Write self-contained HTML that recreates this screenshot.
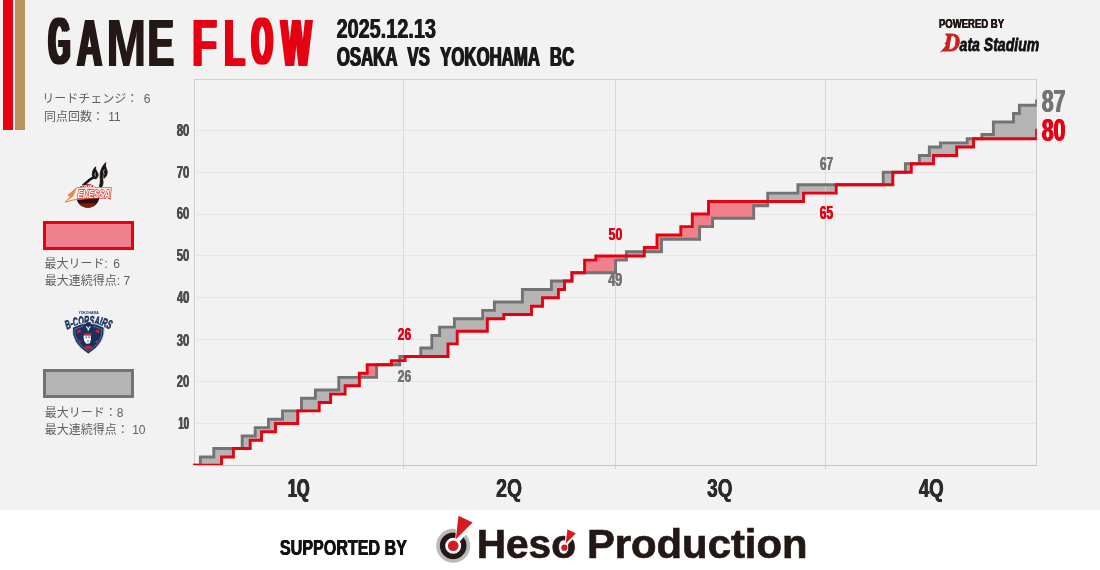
<!DOCTYPE html>
<html lang="ja"><head><meta charset="utf-8"><title>GAME FLOW</title>
<style>
html,body{margin:0;padding:0}
body{width:1100px;height:570px;position:relative;overflow:hidden;background:#f2f2f2;font-family:"Liberation Sans","Noto Sans CJK JP",sans-serif}
.d{position:absolute;white-space:pre;line-height:1;font-family:"Liberation Sans",sans-serif;font-weight:700;transform-origin:0 0;display:block}
.j{position:absolute;white-space:pre;line-height:1;font-family:"Liberation Sans","Noto Sans CJK JP",sans-serif;font-size:12px;color:#606060}
.abs{position:absolute}
svg{position:absolute;left:0;top:0}
</style></head><body>
<div class="abs" id="footer" style="left:0;top:510px;width:1100px;height:60px;background:#fff"></div>
<div class="abs" style="left:3px;top:0;width:10px;height:130px;background:#e60012"></div>
<div class="abs" style="left:15px;top:0;width:10px;height:130px;background:#b8945c"></div>
<svg id="chart" width="1100" height="570" viewBox="0 0 1100 570">
<defs><clipPath id="cp"><rect x="192.8" y="79" width="844" height="386"/></clipPath></defs>
<rect x="196" y="423" width="840" height="1" fill="#e7e7e7"/><rect x="196" y="381" width="840" height="1" fill="#e7e7e7"/><rect x="196" y="339" width="840" height="1" fill="#e7e7e7"/><rect x="196" y="297" width="840" height="1" fill="#e7e7e7"/><rect x="196" y="255" width="840" height="1" fill="#e7e7e7"/><rect x="196" y="214" width="840" height="1" fill="#e7e7e7"/><rect x="196" y="172" width="840" height="1" fill="#e7e7e7"/><rect x="196" y="130" width="840" height="1" fill="#e7e7e7"/><rect x="403" y="80" width="1" height="385" fill="#dadada"/><rect x="403" y="466" width="1" height="3" fill="#d0d0d0"/><rect x="615" y="80" width="1" height="385" fill="#dadada"/><rect x="615" y="466" width="1" height="3" fill="#d0d0d0"/><rect x="825" y="80" width="1" height="385" fill="#dadada"/><rect x="825" y="466" width="1" height="3" fill="#d0d0d0"/>
<rect x="194" y="79" width="843" height="1" fill="#cfcfcf"/>
<rect x="194" y="79" width="1" height="387" fill="#cfcfcf"/>
<rect x="1036" y="79" width="1" height="387" fill="#cfcfcf"/>
<rect x="194" y="465" width="843" height="1" fill="#c4c4c4"/>
<g clip-path="url(#cp)">
<path d="M200.4,456.93H213.8V465.3H200.4ZM213.8,448.55H221.5V465.3H213.8ZM221.5,448.55H233.4V456.93H221.5ZM242.2,435.99H250.2V448.55H242.2ZM250.2,435.99H255.2V440.18H250.2ZM255.2,427.61H261.5V440.18H255.2ZM261.5,427.61H268.5V431.8H261.5ZM268.5,419.24H275.5V431.8H268.5ZM275.5,419.24H282.5V423.43H275.5ZM282.5,410.86H297.7V423.43H282.5ZM301.5,398.3H315.4V410.86H301.5ZM315.4,389.93H319.2V410.86H315.4ZM319.2,389.93H330.6V402.49H319.2ZM330.6,389.93H338.8V394.11H330.6ZM338.8,377.36H345.1V394.11H338.8ZM345.1,377.36H359.4V385.74H345.1ZM399.8,356.43H405.1V360.61H399.8ZM420.8,348.05H431.8V356.43H420.8ZM431.8,335.49H439.6V356.43H431.8ZM439.6,327.11H448.0V356.43H439.6ZM448.0,327.11H454.4V343.86H448.0ZM454.4,318.74H457.2V343.86H454.4ZM457.2,318.74H482.7V331.3H457.2ZM482.7,310.36H487.3V331.3H482.7ZM487.3,310.36H494.4V318.74H487.3ZM494.4,301.99H503.8V318.74H494.4ZM503.8,301.99H522.4V314.55H503.8ZM522.4,289.43H531.5V314.55H522.4ZM531.5,289.43H542.5V306.18H531.5ZM542.5,289.43H551.4V297.8H542.5ZM551.4,281.05H558.4V297.8H551.4ZM558.4,281.05H564.5V289.43H558.4ZM626.4,251.74H644.3V255.93H626.4ZM767.7,193.11H797.9V201.49H767.7ZM797.9,184.74H803.5V201.49H797.9ZM803.5,184.74H836.2V193.11H803.5ZM883.2,172.18H892.8V184.74H883.2ZM905.4,163.8H911.3V172.18H905.4ZM919.4,155.43H929.3V163.8H919.4ZM929.3,147.05H933.5V163.8H929.3ZM933.5,147.05H940.5V155.43H933.5ZM940.5,142.86H956.7V155.43H940.5ZM956.7,142.86H967.2V147.05H956.7ZM967.2,138.68H973.5V147.05H967.2ZM981.9,134.49H993.4V138.68H981.9ZM993.4,121.93H1013.5V138.68H993.4ZM1013.5,113.55H1019.4V138.68H1013.5ZM1019.4,105.18H1036.6V138.68H1019.4ZM1036.6,100.99H1036.8V130.3H1036.6Z" fill="#b4b4b4"/>
<path d="M359.4,373.18H367.2V377.36H359.4ZM367.2,364.8H376.6V377.36H367.2ZM391.4,360.61H399.8V364.8H391.4ZM571.9,272.68H572.0V281.05H571.9ZM584.6,260.11H595.8V272.68H584.6ZM595.8,255.93H615.6V272.68H595.8ZM615.6,255.93H626.4V260.11H615.6ZM644.3,247.55H657.0V251.74H644.3ZM657.0,234.99H661.5V251.74H657.0ZM661.5,234.99H680.8V239.18H661.5ZM680.8,226.61H692.3V239.18H680.8ZM692.3,214.05H699.6V239.18H692.3ZM699.6,214.05H708.5V226.61H699.6ZM708.5,201.49H712.6V226.61H708.5ZM712.6,201.49H753.7V218.24H712.6ZM753.7,201.49H767.7V205.68H753.7Z" fill="#ef808c"/>
<path d="M403.5,80V465M615.5,80V465M825.5,80V465" stroke="#d8d8d8" stroke-width="1" opacity="0.55" fill="none"/>
<path d="M193.0,465.3H200.4V456.93H213.8V448.55H242.2V435.99H255.2V427.61H268.5V419.24H282.5V410.86H301.5V398.3H315.4V389.93H338.8V377.36H376.6V364.8H399.8V356.43H420.8V348.05H431.8V335.49H439.6V327.11H454.4V318.74H482.7V310.36H494.4V301.99H522.4V289.43H551.4V281.05H572.0V272.68H615.6V260.11H626.4V251.74H661.5V239.18H699.6V226.61H712.6V218.24H753.7V205.68H767.7V193.11H797.9V184.74H883.2V172.18H905.4V163.8H919.4V155.43H929.3V147.05H940.5V142.86H967.2V138.68H981.9V134.49H993.4V121.93H1013.5V113.55H1019.4V105.18H1036.6V100.99H1039.8" fill="none" stroke="#737373" stroke-width="2.9" stroke-linejoin="miter"/>
<path d="M193.0,465.3H221.5V456.93H233.4V448.55H250.2V440.18H261.5V431.8H275.5V423.43H297.7V410.86H319.2V402.49H330.6V394.11H345.1V385.74H359.4V373.18H367.2V364.8H391.4V360.61H405.1V356.43H448.0V343.86H457.2V331.3H487.3V318.74H503.8V314.55H531.5V306.18H542.5V297.8H558.4V289.43H564.5V281.05H571.9V272.68H584.6V260.11H595.8V255.93H644.3V247.55H657.0V234.99H680.8V226.61H692.3V214.05H708.5V201.49H803.5V193.11H836.2V184.74H892.8V172.18H911.3V163.8H933.5V155.43H956.7V147.05H973.5V138.68H1036.6V130.3H1039.8" fill="none" stroke="#e60012" stroke-width="2.9" stroke-linejoin="miter"/>
</g>
</svg>
<div class="abs" style="left:42.7px;top:220.6px;width:85.3px;height:23.2px;border:3px solid #e60012;background:#ef808c"></div>
<div class="abs" style="left:42.7px;top:368.7px;width:85.3px;height:23.2px;border:3px solid #737373;background:#b4b4b4"></div>
<span class="j" id="j1" style="left:42.3px;top:92.5px;word-spacing:2px">リードチェンジ： 6</span>
<span class="j" id="j2" style="left:44px;top:111.3px;word-spacing:1px">同点回数： 11</span>
<span class="j" id="j3" style="left:44.6px;top:257.6px;word-spacing:2px">最大リード: 6</span>
<span class="j" id="j4" style="left:44.8px;top:275.3px">最大連続得点: 7</span>
<span class="j" id="j5" style="left:44.8px;top:406.6px">最大リード：8</span>
<span class="j" id="j6" style="left:44.8px;top:424.3px">最大連続得点： 10</span>
<span id="title"><span class="d" id="t_G" style="left:0;top:0;font-size:65.77px;color:#231815;transform:translate(48.78px,9.14px) scale(0.4147,1.0000);text-shadow:4.82px 0 0 #231815,-4.82px 0 0 #231815;">G</span><span class="d" id="t_A" style="left:0;top:0;font-size:67.259px;color:#231815;transform:translate(77.19px,8.60px) scale(0.5101,1.0000);text-shadow:3.08px 0 0 #231815,-3.08px 0 0 #231815;">A</span><span class="d" id="t_M" style="left:0;top:0;font-size:67.259px;color:#231815;transform:translate(106.26px,8.60px) scale(0.7137,1.0000);text-shadow:0.79px 0 0 #231815,-0.79px 0 0 #231815;">M</span><span class="d" id="t_E" style="left:0;top:0;font-size:67.259px;color:#231815;transform:translate(147.68px,8.60px) scale(0.5851,1.0000);text-shadow:2.06px 0 0 #231815,-2.06px 0 0 #231815;">E</span> <span class="d" id="t_F" style="left:0;top:0;font-size:67.259px;color:#e60012;transform:translate(191.86px,8.60px) scale(0.6186,1.0000);text-shadow:1.68px 0 0 #e60012,-1.68px 0 0 #e60012;">F</span><span class="d" id="t_L" style="left:0;top:0;font-size:67.259px;color:#e60012;transform:translate(224.41px,8.60px) scale(0.4980,1.0000);text-shadow:3.28px 0 0 #e60012,-3.28px 0 0 #e60012;">L</span><span class="d" id="t_O" style="left:0;top:0;font-size:65.849px;color:#e60012;transform:translate(251.88px,9.18px) scale(0.4013,1.0000);text-shadow:5.15px 0 0 #e60012,-5.15px 0 0 #e60012;">O</span><span class="d" id="t_W" style="left:0;top:0;font-size:67.259px;color:#e60012;transform:translate(281.22px,8.60px) scale(0.4732,1.0000);text-shadow:3.71px 0 0 #e60012,-3.71px 0 0 #e60012;">W</span></span>
<span class="d" id="t_date" style="left:0;top:0;font-size:26.939px;color:#1a1a1a;transform:translate(336.54px,16.34px) scale(0.7377,1.0000);text-shadow:0.50px 0 0 #1a1a1a,-0.50px 0 0 #1a1a1a;">2025.12.13</span><span class="d" id="t_match" style="left:0;top:0;font-size:27.399px;color:#1a1a1a;word-spacing:0.36em;transform:translate(336.83px,42.72px) scale(0.6125,1.0000);text-shadow:1.03px 0 0 #1a1a1a,-1.03px 0 0 #1a1a1a;">OSAKA VS YOKOHAMA BC</span><span class="d" id="t_pow" style="left:0;top:0;font-size:13.589px;color:#231815;transform:translate(938.93px,16.62px) scale(0.7020,1.0000);text-shadow:0.32px 0 0 #231815,-0.32px 0 0 #231815;">POWERED BY</span><span class="d" id="t_sup" style="left:0;top:0;font-size:22.754px;color:#111;transform:translate(279.90px,536.25px) scale(0.7078,1.0000);text-shadow:0.51px 0 0 #111,-0.51px 0 0 #111;">SUPPORTED BY</span><span class="d" id="q1" style="left:0;top:0;font-size:25.45px;color:#2b2b2b;transform:translate(287.88px,475.86px) scale(0.6364,1.0000);text-shadow:0.85px 0 0 #2b2b2b,-0.85px 0 0 #2b2b2b;">1Q</span><span class="d" id="q2" style="left:0;top:0;font-size:25.427px;color:#2b2b2b;transform:translate(496.17px,475.87px) scale(0.7620,1.0000);text-shadow:0.40px 0 0 #2b2b2b,-0.40px 0 0 #2b2b2b;">2Q</span><span class="d" id="q3" style="left:0;top:0;font-size:25.455px;color:#2b2b2b;transform:translate(707.21px,475.87px) scale(0.7428,1.0000);text-shadow:0.46px 0 0 #2b2b2b,-0.46px 0 0 #2b2b2b;">3Q</span><span class="d" id="q4" style="left:0;top:0;font-size:25.489px;color:#2b2b2b;transform:translate(918.78px,475.91px) scale(0.7318,1.0000);text-shadow:0.50px 0 0 #2b2b2b,-0.50px 0 0 #2b2b2b;">4Q</span><span class="d" id="s26r" style="left:0;top:0;font-size:17.254px;color:#e60012;transform:translate(397.79px,326.49px) scale(0.6918,1.0000);text-shadow:0.43px 0 0 #e60012,-0.43px 0 0 #e60012;">26</span><span class="d" id="s26g" style="left:0;top:0;font-size:17.227px;color:#737373;transform:translate(397.79px,368.45px) scale(0.6927,1.0000);text-shadow:0.43px 0 0 #737373,-0.43px 0 0 #737373;">26</span><span class="d" id="s50r" style="left:0;top:0;font-size:17.276px;color:#e60012;transform:translate(608.59px,226.22px) scale(0.7095,1.0000);text-shadow:0.38px 0 0 #e60012,-0.38px 0 0 #e60012;">50</span><span class="d" id="s49g" style="left:0;top:0;font-size:17.551px;color:#737373;transform:translate(608.38px,272.36px) scale(0.7124,1.0000);text-shadow:0.39px 0 0 #737373,-0.39px 0 0 #737373;">49</span><span class="d" id="s67g" style="left:0;top:0;font-size:17.657px;color:#737373;transform:translate(819.97px,155.65px) scale(0.6622,1.0000);text-shadow:0.51px 0 0 #737373,-0.51px 0 0 #737373;">67</span><span class="d" id="s65r" style="left:0;top:0;font-size:17.528px;color:#e60012;transform:translate(819.78px,205.42px) scale(0.6779,1.0000);text-shadow:0.47px 0 0 #e60012,-0.47px 0 0 #e60012;">65</span><span class="d" id="s87" style="left:0;top:0;font-size:30.492px;color:#737373;transform:translate(1041.64px,86.36px) scale(0.7026,1.0000);text-shadow:0.71px 0 0 #737373,-0.71px 0 0 #737373;">87</span><span class="d" id="s80" style="left:0;top:0;font-size:30.51px;color:#e60012;transform:translate(1041.87px,115.23px) scale(0.6925,1.0000);text-shadow:0.75px 0 0 #e60012,-0.75px 0 0 #e60012;">80</span><span class="d" id="y80" style="left:0;top:0;font-size:16.642px;color:#4d4d4d;transform:translate(176.82px,122.82px) scale(0.6719,1.0000);text-shadow:0.46px 0 0 #4d4d4d,-0.46px 0 0 #4d4d4d;">80</span><span class="d" id="y70" style="left:0;top:0;font-size:16.664px;color:#4d4d4d;transform:translate(176.71px,164.59px) scale(0.6773,1.0000);text-shadow:0.45px 0 0 #4d4d4d,-0.45px 0 0 #4d4d4d;">70</span><span class="d" id="y60" style="left:0;top:0;font-size:16.533px;color:#4d4d4d;transform:translate(176.82px,206.46px) scale(0.6749,1.0000);text-shadow:0.45px 0 0 #4d4d4d,-0.45px 0 0 #4d4d4d;">60</span><span class="d" id="y50" style="left:0;top:0;font-size:16.662px;color:#4d4d4d;transform:translate(176.79px,248.25px) scale(0.6700,1.0000);text-shadow:0.47px 0 0 #4d4d4d,-0.47px 0 0 #4d4d4d;">50</span><span class="d" id="y40" style="left:0;top:0;font-size:16.546px;color:#4d4d4d;transform:translate(176.95px,290.09px) scale(0.6691,1.0000);text-shadow:0.47px 0 0 #4d4d4d,-0.47px 0 0 #4d4d4d;">40</span><span class="d" id="y30" style="left:0;top:0;font-size:16.517px;color:#4d4d4d;transform:translate(176.80px,332.06px) scale(0.6767,1.0000);text-shadow:0.45px 0 0 #4d4d4d,-0.45px 0 0 #4d4d4d;">30</span><span class="d" id="y20" style="left:0;top:0;font-size:16.649px;color:#4d4d4d;transform:translate(176.79px,373.86px) scale(0.6738,1.0000);text-shadow:0.45px 0 0 #4d4d4d,-0.45px 0 0 #4d4d4d;">20</span><span class="d" id="y10" style="left:0;top:0;font-size:16.625px;color:#4d4d4d;transform:translate(178.33px,415.93px) scale(0.5812,1.0000);text-shadow:0.72px 0 0 #4d4d4d,-0.72px 0 0 #4d4d4d;">10</span>

<!-- Data Stadium -->
<svg width="1100" height="570" viewBox="0 0 1100 570" id="logos">
<g id="ds">
<path d="M939.6,52.8 L947,44.5 L944.2,44 L950.5,37 L946.5,36 L952.5,33.6 L950,41 L948.2,47.5 L944.5,50.6 Z" fill="#c9211e"/>
<text id="dsT" y="51"><tspan x="943.4" font-family="'Liberation Serif',serif" font-weight="700" font-style="italic" font-size="25" fill="#c9211e" stroke="#c9211e" stroke-width="0.9" textLength="16.4" lengthAdjust="spacingAndGlyphs">D</tspan><tspan x="959.6" y="50.9" font-family="'Liberation Sans',sans-serif" font-weight="700" font-style="italic" font-size="18.8" fill="#111" stroke="#111" stroke-width="0.8" textLength="79.6" lengthAdjust="spacingAndGlyphs">ata Stadium</tspan></text>
<path d="M950.2,47.8 L953.4,37.6 M952.6,47.6 L955.4,38.6" stroke="#f2f2f2" stroke-width="0.7" fill="none"/>
</g>

<g id="evessa">
<path d="M83.4,185.2 Q89.5,179.2 96.6,175.4" fill="none" stroke="#1a1311" stroke-width="2.6" stroke-linecap="round"/>
<path d="M93,178.4 C91.4,173.4 92.8,169.6 95.6,166.8 C95.2,169.4 96.4,171 97.6,172.6 C98.6,174.8 98,177 96.2,178.8 Z" fill="#1a1311" stroke="#1a1311" stroke-width="0.9" stroke-linejoin="round"/>
<path d="M99.4,186.4 C101.2,181.4 99.8,178 100.2,174.2 C100.6,169.6 102.6,165.6 105.8,162.6 C104.8,166 106.2,168 107,170.6 C107.8,173.8 106.4,176.8 103.8,178.4 C104.1,176.2 103.6,174.8 102.8,173.8 C102,176.2 102.6,179 103,181.6 C103.2,183.8 102.4,185.8 101.4,187.4 Z" fill="#1a1311" stroke="#1a1311" stroke-width="0.9" stroke-linejoin="round"/>
<path d="M95.4,172.6 Q94.2,174.6 95.6,176.4 M104.4,169.4 Q102.6,171.6 104.2,174.6" stroke="#f2f2f2" stroke-width="0.7" fill="none"/>
<circle cx="87.8" cy="196" r="11.7" fill="#2a0f0c"/>
<path d="M78.2,189.4 A11.7,11.7 0 0 1 97.4,189.4 Z" fill="#d9281e"/>
<path d="M78.6,203.2 A11.7,11.7 0 0 0 97,203.2 Z" fill="#7a1f12"/>
<path d="M73.5,199.9 L65.1,202.1 L70.6,196.6 L68,195.3 L76.8,187.6 L111.4,187.6 L110.2,199.6 L108,196.8 Z" fill="#fdf3ec" stroke="#e0582a" stroke-width="0.8" stroke-linejoin="round"/>
<path d="M65.1,202.1 L70.6,196.6 L68,195.3 L76.8,187.6 L73.6,196 Z" fill="#ee8a3c"/>
<text x="82" y="188.2" font-family="'Liberation Sans',sans-serif" font-weight="700" font-style="italic" font-size="3.4" fill="#fff" textLength="13" lengthAdjust="spacingAndGlyphs">OSAKA</text>
<text x="77.6" y="197.6" font-family="'Liberation Sans',sans-serif" font-weight="700" font-style="italic" font-size="10" fill="#fff" stroke="#d4211c" stroke-width="1.3" paint-order="stroke" textLength="32.6" lengthAdjust="spacingAndGlyphs">EVESSA</text>
</g>
<g id="corsairs">
<text x="78.4" y="313.9" font-family="'Liberation Sans',sans-serif" font-weight="700" font-size="2.6" fill="#1c3561" textLength="20.4" lengthAdjust="spacingAndGlyphs">YOKOHAMA</text>
<path id="arc" d="M67,329.6 Q88.6,319.6 110.6,329.4" fill="none"/>
<text font-family="'Liberation Sans',sans-serif" font-weight="700" font-style="italic" font-size="12.4" fill="#1c3561" stroke="#1c3561" stroke-width="0.7"><textPath href="#arc" textLength="44.6" lengthAdjust="spacingAndGlyphs">B-CORSAIRS</textPath></text>
<path d="M72.4,327.4 Q88.3,318.8 104.2,327.4 Q105.8,343 88.3,354 Q70.8,343 72.4,327.2 Z" fill="#17305d" stroke="#f2f2f2" stroke-width="0.9"/>
<path d="M74.8,329.2 Q88.3,322.4 101.8,329.2 Q103,341.8 88.3,351.2 Q73.6,341.8 74.8,329 Z" fill="none" stroke="#6f8bb8" stroke-width="0.7"/>
<path d="M86.8,322.2 L89.8,322.2 L98.4,333 L78.2,333 Z" fill="#17305d"/>
<path d="M76.8,330.6 L80.2,329.2 L81.2,332 L77.8,333.6 Z M99.8,330.6 L96.4,329.2 L95.4,332 L98.8,333.6 Z" fill="#c8242c"/>
<path d="M79,340 L81.5,341.5 L80.6,343 L78.4,341.4 Z M97.6,340 L95.1,341.5 L96,343 L98.2,341.4 Z" fill="#c8242c"/>
<ellipse cx="88.3" cy="347.3" rx="3.6" ry="1.7" fill="#c8242c"/>
<path d="M84,333.3 L92,333.3 L91.6,335.2 L84.4,335.2 Z" fill="#c8242c"/>
<path d="M83.4,335.4 L90.8,335.4 L91,339.5 L89.6,343.6 L86.2,343.8 L84,340.6 Z" fill="#f4f4f6"/>
<path d="M85,337 L87,336.6 L87,338 Z M88.4,336.6 L90.4,337 L88.6,338 Z M86.8,340.8 L89.2,340.8 L88,341.8 Z" fill="#17305d"/>
<path d="M86.7,326 L88.3,328 L89.9,326 L90.7,326.7 L89,328.9 L89,330.6 L87.6,330.6 L87.6,328.9 L85.9,326.7 Z" fill="#fff"/>
</g>
<!-- Heso icon -->
<g id="hicon">
<circle cx="453.2" cy="545.8" r="15.2" fill="none" stroke="#b9b9b9" stroke-width="3.6"/>
<circle cx="453.2" cy="545.8" r="10.7" fill="none" stroke="#231815" stroke-width="5.4"/>
<path d="M455.2,541 L456.8,513.5 L476,522.8 L459.8,541.5 Z" fill="#fff"/>
<circle cx="453.2" cy="545.8" r="5.3" fill="#d71920"/>
<path d="M455.8,539.3 L458.5,515.8 L472.6,522.6 Z" fill="#d71920"/>
</g>
<text id="heso" font-family="'Liberation Sans',sans-serif" font-weight="700" font-size="40.6" fill="#231815" stroke="#231815" stroke-width="0.7"><tspan x="476.7" y="558">Heso</tspan> <tspan x="586.9" y="558" textLength="220.6" lengthAdjust="spacingAndGlyphs">Production</tspan></text>
<g id="hicon2">
<path d="M564.6,543.6 L566.4,527.4 L578,533.2 L568,544.4 Z" fill="#fff"/>
<circle cx="564.4" cy="547.7" r="3.1" fill="#d71920"/>
<path d="M565.7,543.4 L567.5,529.2 L575.8,533.5 Z" fill="#d71920"/>
</g>
</svg>

</body></html>
